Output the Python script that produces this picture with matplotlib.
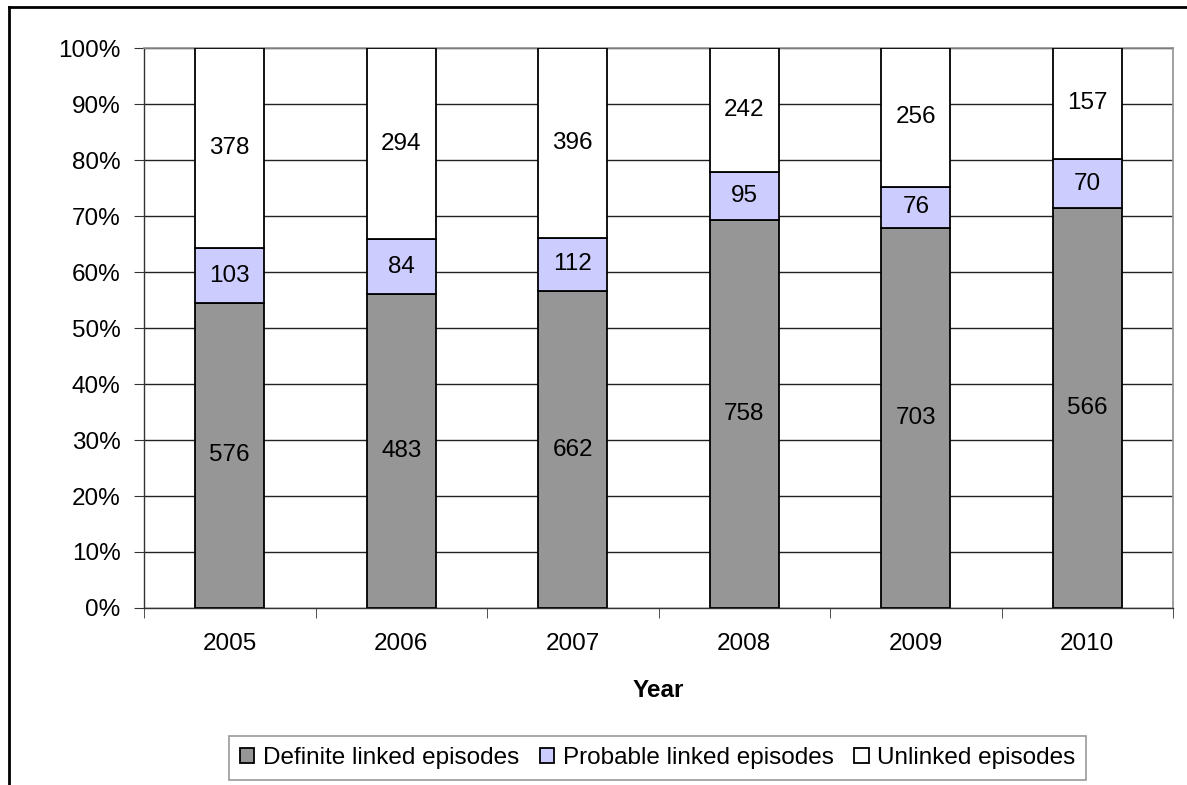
import matplotlib
matplotlib.use("Agg")
import matplotlib.pyplot as plt
from matplotlib.lines import Line2D
from matplotlib.ticker import FixedLocator, PercentFormatter

plt.rcParams['font.family'] = ['Liberation Sans', 'DejaVu Sans']

years = ['2005', '2006', '2007', '2008', '2009', '2010']
definite = [576, 483, 662, 758, 703, 566]
probable = [103, 84, 112, 95, 76, 70]
unlinked = [378, 294, 396, 242, 256, 157]
series_names = ['Definite linked episodes', 'Probable linked episodes', 'Unlinked episodes']
colors = ['#969696', '#ccccff', '#ffffff']

FS = 17.5
W, H = 1187, 785
fig = plt.figure(figsize=(W / 100, H / 100), dpi=100)
ax = fig.add_axes([144 / W, 1 - 608 / H, (1173 - 144) / W, (608 - 48) / H])

totals = [a + b + c for a, b, c in zip(definite, probable, unlinked)]
x = list(range(len(years)))
bottom = [0.0] * len(years)
handles = []
for vals, name, col in zip([definite, probable, unlinked], series_names, colors):
    pct = [v / t * 100 for v, t in zip(vals, totals)]
    bars = ax.bar(x, pct, width=0.4, bottom=bottom, color=col, edgecolor='black',
                  linewidth=1.3, label=name, zorder=3)
    for xi, b, p, v in zip(x, bottom, pct, vals):
        ax.text(xi, b + p / 2, str(v), ha='center', va='center', fontsize=FS, zorder=4)
    bottom = [b + p for b, p in zip(bottom, pct)]
    handles.append(bars)

ax.set_xlim(-0.5, len(years) - 0.5)
ax.set_ylim(0, 100)
ax.yaxis.set_major_locator(FixedLocator(range(0, 101, 10)))
ax.yaxis.set_major_formatter(PercentFormatter(decimals=0))
ax.set_xticks(x)
ax.set_xticklabels(years)
ax.set_xticks([i - 0.5 for i in range(len(years) + 1)], minor=True)
ax.tick_params(axis='x', which='major', length=0, pad=18, labelsize=FS)
ax.tick_params(axis='x', which='minor', length=7, direction='out', color='#333333')
ax.tick_params(axis='y', length=7, direction='out', labelsize=FS, pad=10, color='#333333')
ax.grid(axis='y', color='#222222', linewidth=1.0, zorder=0)
for s in ['top', 'right']:
    ax.spines[s].set_color('#909090')
    ax.spines[s].set_linewidth(1.2)
for s in ['left', 'bottom']:
    ax.spines[s].set_color('#333333')
    ax.spines[s].set_linewidth(1.0)
ax.set_xlabel('Year', fontsize=FS, fontweight='bold', labelpad=17)

leg = fig.legend(handles=handles, labels=series_names, loc='center',
                 bbox_to_anchor=((227 + 1088) / 2 / W, 1 - 758 / H), ncol=3,
                 fontsize=FS, frameon=True, fancybox=False, handlelength=0.6,
                 handleheight=0.6, handletextpad=0.35, columnspacing=0.85,
                 borderpad=0.45, borderaxespad=0)
leg.get_frame().set_edgecolor('#808080')
leg.get_frame().set_linewidth(1.2)

fig.add_artist(Line2D([9 / W, 9 / W], [0, 1 - 7 / H], color='black', linewidth=2,
                      transform=fig.transFigure))
fig.add_artist(Line2D([9 / W, 1], [1 - 7 / H, 1 - 7 / H], color='black', linewidth=2,
                      transform=fig.transFigure))

fig.savefig('out.png', dpi=100)
